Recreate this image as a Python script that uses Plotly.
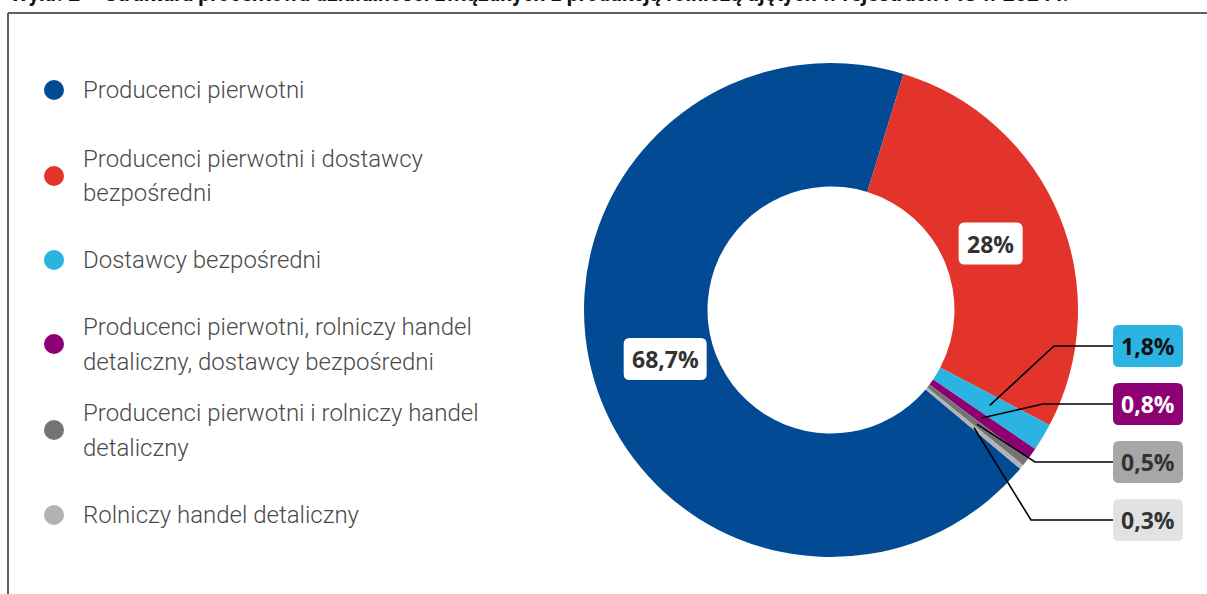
import math
import plotly.graph_objects as go

# ---------------- data ----------------
categories = [
    "Producenci pierwotni",
    "Producenci pierwotni i dostawcy bezpośredni",
    "Dostawcy bezpośredni",
    "Producenci pierwotni, rolniczy handel detaliczny, dostawcy bezpośredni",
    "Producenci pierwotni i rolniczy handel detaliczny",
    "Rolniczy handel detaliczny",
]
legend_lines = [
    ["Producenci pierwotni"],
    ["Producenci pierwotni i dostawcy", "bezpośredni"],
    ["Dostawcy bezpośredni"],
    ["Producenci pierwotni, rolniczy handel", "detaliczny, dostawcy bezpośredni"],
    ["Producenci pierwotni i rolniczy handel", "detaliczny"],
    ["Rolniczy handel detaliczny"],
]
values = [68.7, 28.0, 1.8, 0.8, 0.5, 0.3]
value_labels = ["68,7%", "28%", "1,8%", "0,8%", "0,5%", "0,3%"]
colors = ["#024b94", "#e3342b", "#2bb3e1", "#8d0074", "#747474", "#b3b3b3"]
box_bg = ["#ffffff", "#ffffff", "#2bb3e1", "#8d0074", "#a7a7a7", "#e2e2e2"]
box_fg = ["#333333", "#333333", "#111111", "#ffffff", "#333333", "#333333"]
title = ("Wykr. 2 – Struktura procentowa działalności związanych z produkcją "
         "rolniczą ujętych w rejestrach PIS w 2024 r.")

# ---------------- layout helpers ----------------
W, H = 1207, 594
CX, CY, R = 831, 310, 247
ROT = 130


def px(x):
    return x / W


def py(y):
    return 1 - y / H


def rounded_rect(x0, y0, x1, y1, r=6):
    X = lambda v: px(v)
    Y = lambda v: py(v)
    return (f"M {X(x0+r)},{Y(y0)} L {X(x1-r)},{Y(y0)} "
            f"Q {X(x1)},{Y(y0)} {X(x1)},{Y(y0+r)} L {X(x1)},{Y(y1-r)} "
            f"Q {X(x1)},{Y(y1)} {X(x1-r)},{Y(y1)} L {X(x0+r)},{Y(y1)} "
            f"Q {X(x0)},{Y(y1)} {X(x0)},{Y(y1-r)} L {X(x0)},{Y(y0+r)} "
            f"Q {X(x0)},{Y(y0)} {X(x0+r)},{Y(y0)} Z")


fig = go.Figure()
fig.add_trace(go.Pie(
    labels=categories, values=values, sort=False, direction="clockwise",
    rotation=ROT, hole=0.5, textinfo="none", hoverinfo="label+percent",
    marker=dict(colors=colors, line=dict(width=0)), showlegend=False,
    domain=dict(x=[px(CX - R), px(CX + R)], y=[py(CY + R), py(CY - R)]),
))

shapes = []
annotations = []

# frame
shapes.append(dict(type="line", xref="paper", yref="paper", x0=px(8), x1=px(8),
                   y0=py(13), y1=py(600), line=dict(color="#5e5e5e", width=2)))
shapes.append(dict(type="line", xref="paper", yref="paper", x0=px(8), x1=px(1210),
                   y0=py(13), y1=py(13), line=dict(color="#5e5e5e", width=2)))

# title (cut at top as in the source)
annotations.append(dict(text=f"<b>{title}</b>", xref="paper", yref="paper",
                        x=px(8), y=py(8), xanchor="left", yanchor="bottom",
                        showarrow=False,
                        font=dict(family="Roboto", size=21.2, color="#111")))

# legend
leg_y = [90, 176, 260, 344, 430, 515]
for i, lines in enumerate(legend_lines):
    cy = leg_y[i]
    shapes.append(dict(type="circle", xref="paper", yref="paper",
                       x0=px(44), x1=px(64), y0=py(cy - 10), y1=py(cy + 10),
                       fillcolor=colors[i], line=dict(width=0)))
    n = len(lines)
    for j, ln in enumerate(lines):
        ly = cy + (j - (n - 1) / 2) * 35
        annotations.append(dict(text=ln, xref="paper", yref="paper",
                                x=px(81), y=py(ly), xanchor="left", yanchor="middle",
                                showarrow=False,
                                font=dict(family="Roboto", size=24, weight=300,
                                          color="#4a4a4a")))

# slice angles
total = sum(values)
mids = []
cum = 0
for v in values:
    mids.append(ROT + 360 * (cum + v / 2) / total)
    cum += v


def polar(angle_deg, rr):
    a = math.radians(angle_deg)
    return CX + rr * math.sin(a), CY - rr * math.cos(a)


label_font = dict(family="Open Sans, Noto Sans", size=23, color="#333")

# inner labels
inner_sizes = {0: 83, 1: 64}
for i in (0, 1):
    x, y = polar(mids[i], 0.70 * R)
    w = inner_sizes[i]
    shapes.append(dict(type="path", xref="paper", yref="paper",
                       path=rounded_rect(x - w / 2, y - 21, x + w / 2, y + 21),
                       fillcolor=box_bg[i], line=dict(width=0)))
    annotations.append(dict(text=f"<b>{value_labels[i]}</b>", xref="paper", yref="paper",
                            x=px(x), y=py(y), xanchor="center", yanchor="middle",
                            showarrow=False, font=dict(label_font, color=box_fg[i])))

# outer labels with leader lines
box_cy = [346, 404, 462, 520]
elbow_x = [1054, 1043, 1035, 1031]
BX0, BX1 = 1113, 1183
for k, i in enumerate(range(2, 6)):
    cy = box_cy[k]
    ex, ey = polar(mids[i], 0.75 * R)
    shapes.append(dict(type="path", xref="paper", yref="paper",
                       path=(f"M {px(ex)},{py(ey)} L {px(elbow_x[k])},{py(cy)} "
                             f"L {px(BX0)},{py(cy)}"),
                       line=dict(color="#000", width=1.6)))
    shapes.append(dict(type="path", xref="paper", yref="paper",
                       path=rounded_rect(BX0, cy - 21, BX1, cy + 21),
                       fillcolor=box_bg[i], line=dict(width=0)))
    annotations.append(dict(text=f"<b>{value_labels[i]}</b>", xref="paper", yref="paper",
                            x=px((BX0 + BX1) / 2), y=py(cy), xanchor="center",
                            yanchor="middle", showarrow=False,
                            font=dict(label_font, color=box_fg[i])))

fig.update_layout(width=W, height=H, margin=dict(l=0, r=0, t=0, b=0),
                  paper_bgcolor="#ffffff", plot_bgcolor="#ffffff",
                  shapes=shapes, annotations=annotations)

fig.write_html("out.html")
